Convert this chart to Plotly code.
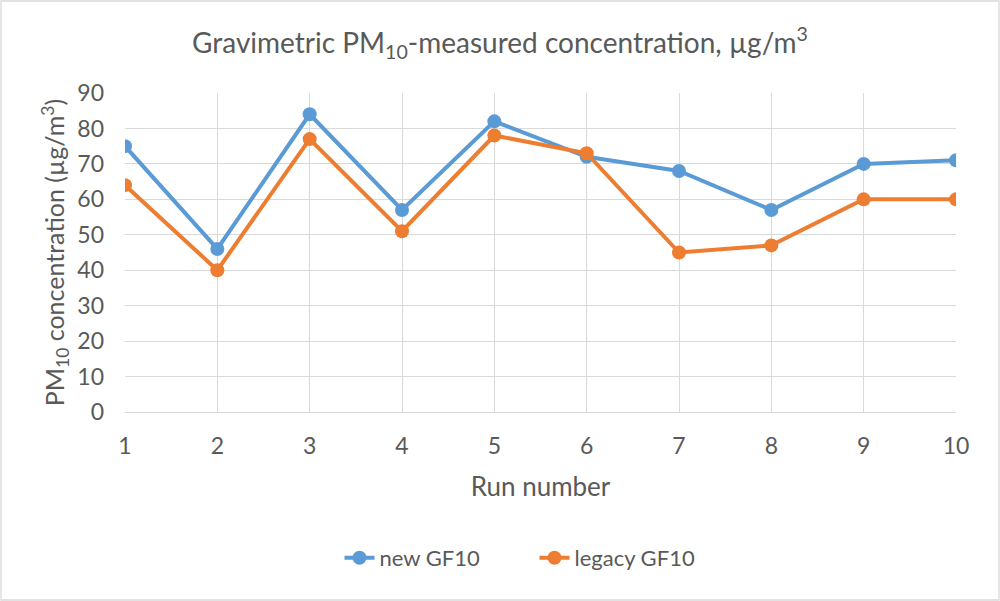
import plotly.graph_objects as go

runs = [1, 2, 3, 4, 5, 6, 7, 8, 9, 10]
new_gf10 = [75, 46, 84, 57, 82, 72, 68, 57, 70, 71]
legacy_gf10 = [64, 40, 77, 51, 78, 73, 45, 47, 60, 60]
y_ticks = [0, 10, 20, 30, 40, 50, 60, 70, 80, 90]

FONT = "Lato"
GRAY = "#595959"
GRID = "#d9d9d9"

L, R, T, B = 125, 44, 93, 189
W, H = 1000, 601
pw, ph = W - L - R, H - T - B

fig = go.Figure()
fig.add_trace(go.Scatter(x=runs, y=new_gf10, name="new GF10", mode="lines+markers",
                         line=dict(color="#5B9BD5", width=4),
                         marker=dict(color="#5B9BD5", size=14)))
fig.add_trace(go.Scatter(x=runs, y=legacy_gf10, name="legacy GF10", mode="lines+markers",
                         line=dict(color="#ED7D31", width=4),
                         marker=dict(color="#ED7D31", size=14)))

fig.update_layout(
    width=W, height=H,
    margin=dict(l=L, r=R, t=T, b=B),
    paper_bgcolor="white", plot_bgcolor="white",
    font=dict(family=FONT, color=GRAY, size=22),
    title=dict(text="Gravimetric PM<sub>10</sub>-measured concentration, µg/m<sup>3</sup>",
               x=0.5, xanchor="center", y=1 - 43 / H, yanchor="middle",
               font=dict(size=28, color=GRAY, family=FONT)),
    xaxis=dict(range=[1, 10], tickvals=runs, showgrid=True, gridcolor=GRID, gridwidth=1.3,
               zeroline=False, showline=True, linecolor=GRID, linewidth=1.3,
               ticks="", ticklabelstandoff=13,
               tickfont=dict(size=23, color=GRAY),
               title=dict(text="Run number", font=dict(size=26, color=GRAY), standoff=20)),
    yaxis=dict(range=[0, 90], tickvals=y_ticks, showgrid=True, gridcolor=GRID, gridwidth=1.3,
               zeroline=False, showline=False,
               ticks="", ticklabelstandoff=20,
               tickfont=dict(size=23, color=GRAY),
               title=dict(text="PM<sub>10</sub> concentration (µg/m<sup>3</sup>)",
                          font=dict(size=25, color=GRAY), standoff=5)),
    legend=dict(orientation="h", x=0.5 - 6 / pw, xanchor="center", y=(412 - 558) / ph,
                yanchor="middle", font=dict(size=22, color=GRAY),
                entrywidth=150, entrywidthmode="pixels"),
    showlegend=True,
)

# outer chart border
fig.add_shape(type="rect", xref="paper", yref="paper",
              x0=(1 - L) / pw, x1=(W - 1 - L) / pw,
              y0=-(H - 1 - T - ph) / ph, y1=1 + (T - 1) / ph,
              line=dict(color=GRID, width=1.3), fillcolor="rgba(0,0,0,0)", layer="below")

fig.write_html("out.html")
